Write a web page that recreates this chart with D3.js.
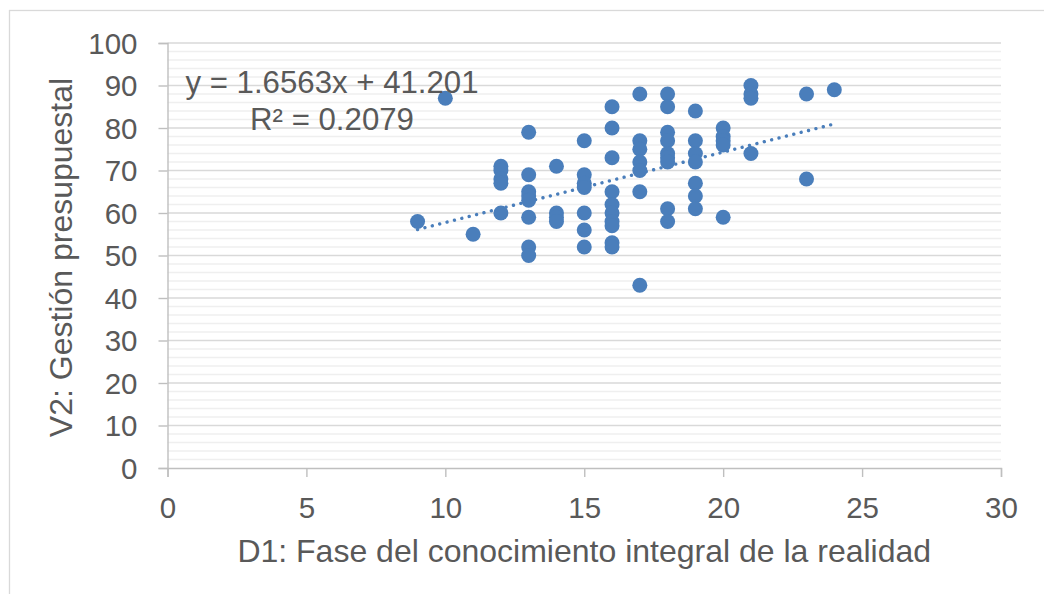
<!DOCTYPE html>
<html>
<head>
<meta charset="utf-8">
<style>
body { margin: 0; background: #fff; }
text { font-family: "Liberation Sans", Arial, sans-serif; fill: #595959; }
</style>
</head>
<body>
<script src="https://cdn.jsdelivr.net/npm/d3@7"></script>
<script>

// D1 score (x) and V2 score (y) for each respondent
var d1 = [9, 10, 11,
  12, 12, 12, 12, 12,
  13, 13, 13, 13, 13, 13, 13, 13,
  14, 14, 14, 14,
  15, 15, 15, 15, 15, 15, 15,
  16, 16, 16, 16, 16, 16, 16, 16, 16, 16,
  17, 17, 17, 17, 17, 17, 17,
  18, 18, 18, 18, 18, 18, 18, 18, 18,
  19, 19, 19, 19, 19, 19, 19,
  20, 20, 20, 20, 20,
  21, 21, 21, 21,
  23, 23, 24];
var v2 = [58, 87, 55,
  71, 70, 68, 67, 60,
  79, 69, 65, 64, 63, 59, 52, 50,
  71, 60, 59, 58,
  77, 69, 67, 66, 60, 56, 52,
  85, 80, 73, 65, 62, 60, 58, 57, 53, 52,
  88, 77, 75, 72, 70, 65, 43,
  88, 85, 79, 77, 74, 73, 72, 61, 58,
  84, 77, 74, 72, 67, 64, 61,
  80, 78, 77, 76, 59,
  90, 88, 87, 74,
  88, 68, 89];

var xTicks = [0, 5, 10, 15, 20, 25, 30];
var yTicks = [0, 10, 20, 30, 40, 50, 60, 70, 80, 90, 100];
var slope = 1.6563, intercept = 41.201;
var eqLines = ["y = 1.6563x + 41.201", "R² = 0.2079"];
var xTitle = "D1: Fase del conocimiento integral de la realidad";
var yTitle = "V2: Gestión presupuestal";

var width = 1044, height = 594;
var blue = "#4a7ebb";

var svg = d3.select("body").append("svg")
    .attr("width", width)
    .attr("height", height);

// chart border
svg.append("rect")
    .attr("x", 9.5).attr("y", 10.5)
    .attr("width", 1100).attr("height", 620)
    .attr("fill", "none")
    .attr("stroke", "#d9d9d9")
    .attr("stroke-width", 1.3);

var x = d3.scaleLinear().domain([0, 30]).range([167.5, 1001]);
var y = d3.scaleLinear().domain([0, 100]).range([468, 43]);

// minor gridlines every 2
svg.append("g")
    .selectAll("line")
    .data(d3.range(0, 101, 2).filter(function(v) { return v % 10 != 0; }))
    .enter().append("line")
    .attr("x1", x(0)).attr("x2", x(30))
    .attr("y1", function(d) { return y(d); })
    .attr("y2", function(d) { return y(d); })
    .attr("stroke", "#efefef")
    .attr("stroke-width", 1.4);

// major gridlines
svg.append("g")
    .selectAll("line")
    .data(yTicks.slice(1))
    .enter().append("line")
    .attr("x1", x(0)).attr("x2", x(30))
    .attr("y1", function(d) { return y(d); })
    .attr("y2", function(d) { return y(d); })
    .attr("stroke", "#d9d9d9")
    .attr("stroke-width", 1.4);

// axes
var xAxis = svg.append("g")
    .attr("transform", "translate(0," + y(0) + ")")
    .call(d3.axisBottom(x).tickValues(xTicks).tickSize(9).tickPadding(20));
var yAxis = svg.append("g")
    .attr("transform", "translate(" + x(0) + ",0)")
    .call(d3.axisLeft(y).tickValues(yTicks).tickSize(9).tickPadding(21));

[xAxis, yAxis].forEach(function(a) {
  a.select(".domain").attr("stroke", "#bfbfbf").attr("stroke-width", 1.4);
  a.selectAll(".tick line").attr("stroke", "#bfbfbf").attr("stroke-width", 1.4);
  a.selectAll(".tick text")
    .style("font-family", "'Liberation Sans', Arial, sans-serif")
    .style("font-size", "29.5px")
    .attr("fill", "#595959");
});
yAxis.selectAll(".tick text").attr("dy", "0.35em");

// trendline (linear fit)
var xMin = d3.min(d1), xMax = d3.max(d1);
svg.append("line")
    .attr("x1", x(xMin)).attr("y1", y(slope * xMin + intercept))
    .attr("x2", x(xMax)).attr("y2", y(slope * xMax + intercept))
    .attr("stroke", blue)
    .attr("stroke-width", 3.4)
    .attr("stroke-linecap", "round")
    .attr("stroke-dasharray", "0.01 7.6");

// points
svg.append("g")
    .selectAll("circle")
    .data(d1.map(function(d, i) { return [d, v2[i]]; }))
    .enter().append("circle")
    .attr("cx", function(d) { return x(d[0]); })
    .attr("cy", function(d) { return y(d[1]); })
    .attr("r", 7.5)
    .attr("fill", blue);

// equation label
svg.append("g")
    .selectAll("text")
    .data(eqLines)
    .enter().append("text")
    .attr("x", 332)
    .attr("y", function(d, i) { return 93 + i * 37; })
    .attr("text-anchor", "middle")
    .style("font-size", "31.2px")
    .text(function(d) { return d; });

// axis titles
svg.append("text")
    .attr("x", (x(0) + x(30)) / 2)
    .attr("y", 562)
    .attr("text-anchor", "middle")
    .style("font-size", "32px")
    .text(xTitle);

svg.append("text")
    .attr("transform", "translate(72," + (y(50) + 2) + ") rotate(-90)")
    .attr("text-anchor", "middle")
    .style("font-size", "32px")
    .text(yTitle);

</script>
</body>
</html>
